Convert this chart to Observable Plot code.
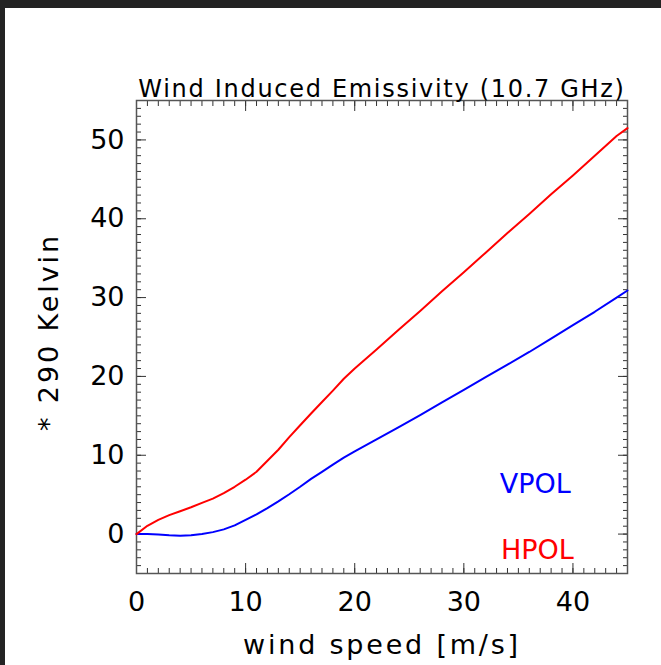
<!DOCTYPE html>
<html>
<head>
<meta charset="utf-8">
<script src="https://cdn.jsdelivr.net/npm/d3@7"></script>
<script src="https://cdn.jsdelivr.net/npm/@observablehq/plot@0.6"></script>
<style>
  html, body { margin: 0; padding: 0; background: #fff; }
  #wrap { position: relative; width: 661px; height: 665px; overflow: hidden; }
  #wrap svg { position: absolute; left: 0; top: 0; }
  .edge { position: absolute; background: #232323; }
</style>
</head>
<body>
<div id="wrap">
  <div class="edge" style="left:0;top:0;width:661px;height:8px"></div>
  <div class="edge" style="left:0;top:0;width:5px;height:665px"></div>
</div>
<script>
// Wind speed samples [m/s]
const windSpeed = [0, 1, 2, 3, 4, 5, 6, 7, 8, 9, 10, 11, 12, 13, 14, 15, 16, 17, 18, 19, 20,
                   22, 24, 26, 28, 30, 32, 34, 36, 38, 40, 42, 44, 45];
// Wind induced emissivity * 290 K, vertical polarisation
const vpol = [0, 0, -0.05, -0.15, -0.2, -0.15, 0, 0.25, 0.6, 1.1, 1.8, 2.5, 3.3, 4.15, 5.05, 6.0, 7.0, 7.9, 8.8, 9.7, 10.5,
              12.0, 13.55, 15.1, 16.7, 18.3, 19.9, 21.5, 23.1, 24.8, 26.5, 28.2, 30.0, 30.9];
// Wind induced emissivity * 290 K, horizontal polarisation
const hpol = [0, 1.05, 1.8, 2.4, 2.9, 3.4, 3.95, 4.5, 5.2, 6.0, 6.9, 7.9, 9.3, 10.7, 12.3, 13.8, 15.3, 16.75, 18.2, 19.7, 21.0,
              23.4, 25.9, 28.3, 30.8, 33.2, 35.7, 38.2, 40.6, 43.1, 45.5, 48.0, 50.5, 51.5];

const xMajor = [0, 10, 20, 30, 40];
const yMajor = [0, 10, 20, 30, 40, 50];
const xMinor = d3.range(0, 46, 1);
const yMinor = d3.range(-5, 56, 1);

const titleText = "Wind Induced Emissivity (10.7 GHz)";
const xLabel = "wind speed [m/s]";
const yLabel = "* 290 Kelvin";

const rows = windSpeed.map((w, i) => ({w, v: vpol[i], h: hpol[i]}));

const font = "DejaVu Sans, sans-serif";
const tickColor = "#333";

const chart = Plot.plot({
  width: 661,
  height: 665,
  marginLeft: 136,
  marginRight: 34,
  marginTop: 100,
  marginBottom: 92,
  style: {fontFamily: font, background: "transparent", color: "#000"},
  x: {domain: [0, 45], axis: null},
  y: {domain: [-5, 55], axis: null},
  marks: [
    // minor ticks, pointing into the frame on all four sides
    Plot.axisX({anchor: "bottom", ticks: xMinor, tickSize: 5, dy: -5, fill: "none", stroke: tickColor, label: null}),
    Plot.axisX({anchor: "top", ticks: xMinor, tickSize: 5, dy: 5, fill: "none", stroke: tickColor, label: null}),
    Plot.axisY({anchor: "left", ticks: yMinor, tickSize: 5, dx: 5, fill: "none", stroke: tickColor, label: null}),
    Plot.axisY({anchor: "right", ticks: yMinor, tickSize: 5, dx: -5, fill: "none", stroke: tickColor, label: null}),
    // major ticks
    Plot.axisX({anchor: "bottom", ticks: xMajor, tickSize: 10, dy: -10, fill: "none", stroke: tickColor, label: null}),
    Plot.axisX({anchor: "top", ticks: xMajor, tickSize: 10, dy: 10, fill: "none", stroke: tickColor, label: null}),
    Plot.axisY({anchor: "left", ticks: yMajor, tickSize: 10, dx: 10, fill: "none", stroke: tickColor, label: null}),
    Plot.axisY({anchor: "right", ticks: yMajor, tickSize: 10, dx: -10, fill: "none", stroke: tickColor, label: null}),
    // tick labels
    Plot.axisX({anchor: "bottom", ticks: xMajor, tickSize: 0, tickPadding: 18, fontSize: 27, label: null, tickFormat: d => String(d)}),
    Plot.axisY({anchor: "left", ticks: yMajor, tickSize: 0, tickPadding: 12, fontSize: 27, label: null, tickFormat: d => String(d)}),
    Plot.frame({stroke: "#555", strokeWidth: 1.5}),
    // curves
    Plot.line(rows, {x: "w", y: "v", stroke: "#0000ff", strokeWidth: 2}),
    Plot.line(rows, {x: "w", y: "h", stroke: "#ff0000", strokeWidth: 2}),
    // series labels
    Plot.text(["VPOL"], {x: 33.3, y: 5.25, text: d => d, fill: "#0000ff", fontSize: 27, textAnchor: "start", lineAnchor: "bottom"}),
    Plot.text(["HPOL"], {x: 33.4, y: -3.1, text: d => d, fill: "#ff0000", fontSize: 27, textAnchor: "start", lineAnchor: "bottom"}),
    // title and axis titles
    Plot.text([titleText], {frameAnchor: "top", text: d => d, fontSize: 24, lineAnchor: "bottom", dy: -4}),
    Plot.text([xLabel], {frameAnchor: "bottom", text: d => d, fontSize: 27, lineAnchor: "bottom", dy: 80}),
    Plot.text([yLabel], {frameAnchor: "left", text: d => d, fontSize: 27, rotate: -90, textAnchor: "middle", dx: -87, dy: -5})
  ]
});

// wide letter spacing for the title and axis titles
const spacing = new Map([[titleText, "1.7px"], [xLabel, "2.8px"], [yLabel, "2.9px"]]);
d3.select(chart).selectAll("text").each(function() {
  const s = spacing.get(this.textContent);
  if (s) this.style.letterSpacing = s;
});

document.getElementById("wrap").appendChild(chart);
</script>
</body>
</html>
